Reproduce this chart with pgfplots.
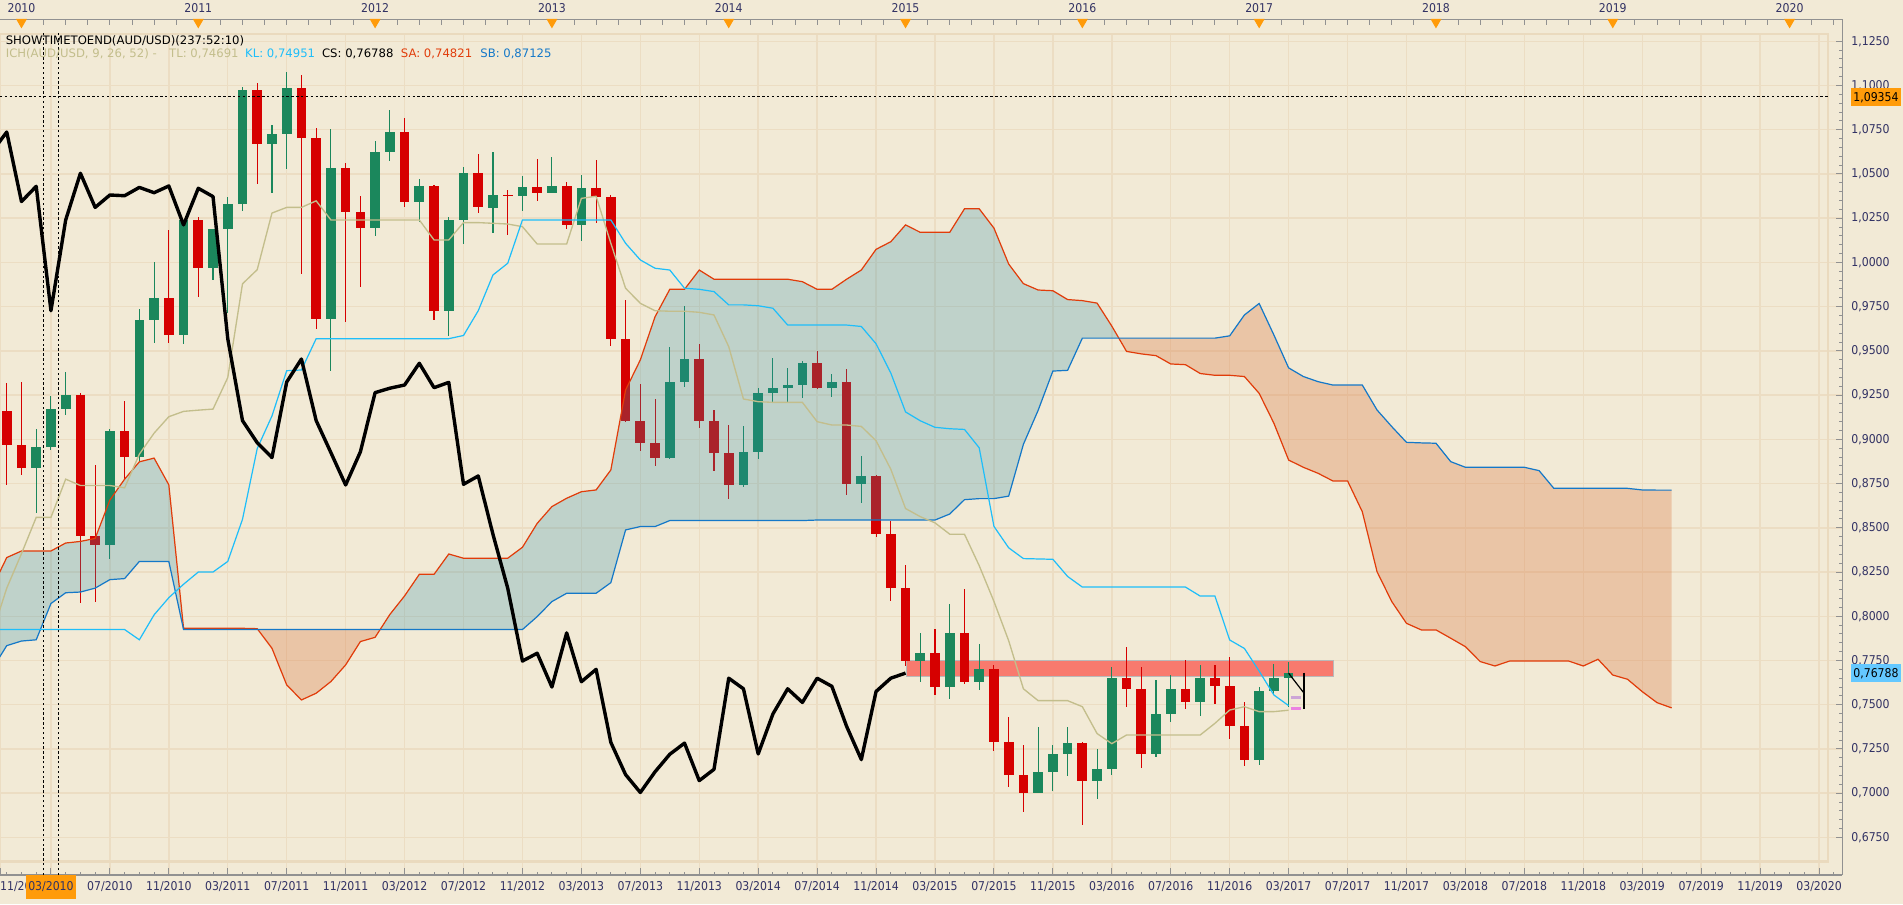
\documentclass[border=0pt]{standalone}
\usepackage{pgfplots}
\pgfplotsset{compat=1.18}
\usepgfplotslibrary{fillbetween}
\usepackage{pgfplotstable}
\usepackage{fontspec}
\setmainfont{DejaVu Sans}
\newfontfamily\narrowfont[FakeStretch=0.9]{DejaVu Sans}
\setlength{\fboxsep}{0pt}
\definecolor{bgcol}{RGB}{242,234,214}
\definecolor{gridcol}{RGB}{236,221,195}
\definecolor{framecol}{RGB}{234,218,190}
\definecolor{axgray}{RGB}{145,145,145}
\definecolor{labelcol}{RGB}{50,50,100}
\definecolor{cgreen}{RGB}{27,135,92}
\definecolor{cred}{RGB}{214,0,0}
\definecolor{cbluefill}{RGB}{40,140,170}
\definecolor{corangefill}{RGB}{215,100,40}
\definecolor{cTL}{RGB}{195,190,140}
\definecolor{cKL}{RGB}{30,190,250}
\definecolor{cSA}{RGB}{225,60,10}
\definecolor{cSB}{RGB}{20,120,200}
\definecolor{crect}{RGB}{248,122,110}
\definecolor{rectborder}{RGB}{185,185,185}
\definecolor{chorange}{RGB}{255,155,10}
\definecolor{clightblue}{RGB}{100,200,255}
\definecolor{cpink}{RGB}{235,130,225}
\definecolor{cpink2}{RGB}{205,165,215}
\newcommand\hf{\fontsize{4.8pt}{5.8pt}\selectfont}
\newcommand\tf{\narrowfont\fontsize{5pt}{6pt}\selectfont}
\pagecolor{bgcol}

\pgfplotstableread{
m o h l c
1 0.8840 0.9061 0.8581 0.8959
2 0.8959 0.9245 0.8938 0.9171
3 0.9171 0.9381 0.9137 0.9251
6 0.8400 0.9061 0.8321 0.9046
8 0.8903 0.9734 0.8870 0.9673
9 0.9673 1.0002 0.9544 0.9799
11 0.9587 1.0240 0.9540 1.0240
13 0.9970 1.0190 0.9900 1.0188
14 1.0188 1.0370 0.9716 1.0331
15 1.0331 1.0990 1.0290 1.0975
17 1.0672 1.0776 1.0391 1.0727
18 1.0727 1.1079 1.0528 1.0988
21 0.9678 1.0755 0.9388 1.0532
24 1.0192 1.0686 1.0149 1.0625
25 1.0625 1.0859 1.0575 1.0737
27 1.0344 1.0469 1.0231 1.0430
29 0.9727 1.0257 0.9587 1.0240
30 1.0240 1.0538 1.0106 1.0504
32 1.0310 1.0626 1.0168 1.0381
34 1.0377 1.0488 1.0291 1.0424
36 1.0394 1.0594 1.0390 1.0432
38 1.0212 1.0494 1.0123 1.0419
44 0.8897 0.9524 0.8890 0.9324
45 0.9324 0.9754 0.9294 0.9454
49 0.8742 0.9076 0.8733 0.8929
50 0.8929 0.9289 0.8889 0.9264
51 0.9264 0.9462 0.9213 0.9289
52 0.9289 0.9405 0.9213 0.9307
53 0.9307 0.9443 0.9232 0.9430
55 0.9292 0.9370 0.9241 0.9322
57 0.8746 0.8906 0.8642 0.8793
61 0.7747 0.7906 0.7626 0.7791
63 0.7600 0.8070 0.7535 0.7906
65 0.7630 0.7842 0.7585 0.7700
69 0.7004 0.7373 0.7000 0.7121
70 0.7121 0.7271 0.7014 0.7220
71 0.7220 0.7373 0.7095 0.7283
73 0.7071 0.7250 0.6970 0.7135
74 0.7135 0.7711 0.7105 0.7650
77 0.7222 0.7640 0.7202 0.7448
78 0.7448 0.7670 0.7404 0.7590
80 0.7513 0.7725 0.7438 0.7650
84 0.7190 0.7599 0.7160 0.7575
85 0.7575 0.7729 0.7559 0.7650
86 0.7650 0.7741 0.7488 0.76788
}\greencandles

\pgfplotstableread{
m o h l c
-1 0.9161 0.9316 0.8743 0.8970
0 0.8970 0.9323 0.8800 0.8840
4 0.9251 0.9262 0.8073 0.8455
5 0.8455 0.8856 0.8083 0.8401
7 0.9046 0.9219 0.8775 0.8903
10 0.9799 1.0186 0.9544 0.9587
12 1.0240 1.0255 0.9807 0.9970
16 1.0975 1.1014 1.0445 1.0672
19 1.0988 1.1062 0.9933 1.0705
20 1.0705 1.0761 0.9626 0.9678
22 1.0532 1.0564 0.9662 1.0283
23 1.0283 1.0376 0.9861 1.0192
26 1.0737 1.0815 1.0311 1.0344
28 1.0430 1.0440 0.9677 0.9727
31 1.0504 1.0614 1.0279 1.0311
33 1.0381 1.0409 1.0155 1.0377
35 1.0424 1.0583 1.0349 1.0394
37 1.0432 1.0456 1.0189 1.0212
39 1.0419 1.0579 1.0225 1.0372
40 1.0372 1.0381 0.9528 0.9569
41 0.9569 0.9788 0.9100 0.9106
42 0.9106 0.9313 0.8936 0.8981
43 0.8981 0.9228 0.8852 0.8897
46 0.9454 0.9539 0.9062 0.9106
47 0.9106 0.9166 0.8823 0.8925
48 0.8925 0.9081 0.8661 0.8742
54 0.9430 0.9499 0.9283 0.9292
56 0.9322 0.9398 0.8686 0.8746
58 0.8793 0.8800 0.8450 0.8463
59 0.8463 0.8538 0.8088 0.8159
60 0.8159 0.8290 0.7721 0.7747
62 0.7791 0.7929 0.7555 0.7600
64 0.7906 0.8155 0.7620 0.7630
66 0.7700 0.7727 0.7236 0.7287
67 0.7287 0.7428 0.7034 0.7105
68 0.7105 0.7271 0.6893 0.7004
72 0.7283 0.7290 0.6822 0.7071
75 0.7650 0.7826 0.7489 0.7590
76 0.7590 0.7711 0.7145 0.7222
79 0.7590 0.7755 0.7478 0.7513
81 0.7650 0.7725 0.7505 0.7604
82 0.7604 0.7767 0.7307 0.7378
83 0.7378 0.7513 0.7156 0.7190
}\redcandles

\pgfplotstableread{
m sa sb
-2 0.8160 0.7700
-1 0.8332 0.7834
0 0.8369 0.7860
1 0.8369 0.7867
2 0.8369 0.8072
3 0.8414 0.8133
4 0.8423 0.8137
5 0.8440 0.8159
6 0.8657 0.8207
7 0.8775 0.8213
8 0.8873 0.8310
9 0.8894 0.8310
10 0.8743 0.8310
11 0.7932 0.7925
12 0.7932 0.7925
13 0.7932 0.7925
14 0.7932 0.7925
15 0.7932 0.7925
16 0.7930 0.7925
17 0.7819 0.7925
18 0.7612 0.7925
19 0.7527 0.7925
20 0.7565 0.7925
21 0.7631 0.7925
22 0.7725 0.7925
23 0.7857 0.7925
24 0.7881 0.7925
25 0.8010 0.7925
26 0.8115 0.7925
27 0.8237 0.7925
28 0.8237 0.7925
29 0.8352 0.7925
30 0.8328 0.7925
31 0.8328 0.7925
32 0.8328 0.7925
33 0.8328 0.7925
34 0.8390 0.7925
35 0.8525 0.7998
36 0.8620 0.8083
37 0.8667 0.8130
38 0.8704 0.8130
39 0.8714 0.8130
40 0.8827 0.8190
41 0.9279 0.8488
42 0.9449 0.8507
43 0.9693 0.8507
44 0.9848 0.8541
45 0.9848 0.8541
46 0.9957 0.8541
47 0.9905 0.8541
48 0.9905 0.8541
49 0.9905 0.8541
50 0.9905 0.8541
51 0.9905 0.8541
52 0.9905 0.8541
53 0.9891 0.8541
54 0.9848 0.8544
55 0.9848 0.8544
56 0.9905 0.8544
57 0.9957 0.8544
58 1.0074 0.8544
59 1.0117 0.8544
60 1.0212 0.8544
61 1.0170 0.8544
62 1.0170 0.8544
63 1.0170 0.8578
64 1.0303 0.8659
65 1.0303 0.8665
66 1.0194 0.8665
67 0.9991 0.8679
68 0.9880 0.8972
69 0.9844 0.9164
70 0.9840 0.9386
71 0.9790 0.9390
72 0.9784 0.9572
73 0.9770 0.9572
74 0.9640 0.9572
75 0.9497 0.9572
76 0.9483 0.9572
77 0.9473 0.9572
78 0.9426 0.9572
79 0.9422 0.9572
80 0.9372 0.9572
81 0.9362 0.9572
82 0.9362 0.9585
83 0.9355 0.9703
84 0.9260 0.9768
85 0.9091 0.9590
86 0.8883 0.9404
87 0.8842 0.9355
88 0.8808 0.9326
89 0.8765 0.9307
90 0.8765 0.9307
91 0.8591 0.9307
92 0.8252 0.9166
93 0.8083 0.9072
94 0.7960 0.8983
95 0.7923 0.8980
96 0.7923 0.8978
97 0.7876 0.8874
98 0.7828 0.8842
99 0.7744 0.8842
100 0.7719 0.8842
101 0.7747 0.8842
102 0.7747 0.8842
103 0.7747 0.8823
104 0.7747 0.8723
105 0.7747 0.8723
106 0.7719 0.8723
107 0.7757 0.8723
108 0.7668 0.8723
109 0.7644 0.8723
110 0.7574 0.8714
111 0.7512 0.8713
112 0.7482 0.8713
}\cloud

\pgfplotstableread{
m tl kl
-2 0.7900 0.7925
-1 0.8159 0.7925
0 0.8354 0.7925
1 0.8559 0.7925
2 0.8559 0.7925
3 0.8775 0.7925
4 0.8739 0.7925
5 0.8739 0.7925
6 0.8739 0.7925
7 0.8726 0.7925
8 0.8916 0.7867
9 0.9035 0.8008
10 0.9128 0.8105
11 0.9158 0.8181
12 0.9165 0.8250
13 0.9171 0.8250
14 0.9349 0.8310
15 0.9879 0.8548
16 0.9959 0.8948
17 1.0279 0.9132
18 1.0311 0.9388
19 1.0311 0.9392
20 1.0348 0.9569
21 1.0240 0.9569
22 1.0240 0.9569
23 1.0240 0.9569
24 1.0240 0.9569
25 1.0240 0.9569
26 1.0240 0.9569
27 1.0240 0.9569
28 1.0127 0.9569
29 1.0127 0.9569
30 1.0225 0.9587
31 1.0225 0.9727
32 1.0221 0.9929
33 1.0217 0.9995
34 1.0202 1.0240
35 1.0104 1.0240
36 1.0104 1.0240
37 1.0104 1.0240
38 1.0362 1.0240
39 1.0374 1.0240
40 1.0108 1.0240
41 0.9854 1.0108
42 0.9769 1.0014
43 0.9727 0.9967
44 0.9724 0.9957
45 0.9724 0.9854
46 0.9718 0.9848
47 0.9703 0.9835
48 0.9524 0.9760
49 0.9228 0.9760
50 0.9213 0.9755
51 0.9209 0.9741
52 0.9209 0.9646
53 0.9209 0.9646
54 0.9100 0.9646
55 0.9081 0.9646
56 0.9081 0.9646
57 0.9073 0.9638
58 0.8992 0.9540
59 0.8831 0.9375
60 0.8609 0.9155
61 0.8563 0.9105
62 0.8528 0.9068
63 0.8464 0.9060
64 0.8464 0.9056
65 0.8286 0.8952
66 0.8084 0.8508
67 0.7862 0.8387
68 0.7590 0.8326
69 0.7523 0.8324
70 0.7523 0.8322
71 0.7523 0.8225
72 0.7489 0.8165
73 0.7337 0.8165
74 0.7280 0.8165
75 0.7329 0.8165
76 0.7329 0.8165
77 0.7329 0.8165
78 0.7329 0.8165
79 0.7329 0.8165
80 0.7329 0.8114
81 0.7395 0.8114
82 0.7470 0.7866
83 0.7489 0.7818
84 0.7461 0.7690
85 0.7461 0.7555
86 0.7469 0.7495
}\tlkl

\pgfplotstableread{
m cs
-2 1.0625
-1 1.0737
0 1.0344
1 1.0430
2 0.9727
3 1.0240
4 1.0504
5 1.0311
6 1.0381
7 1.0377
8 1.0424
9 1.0394
10 1.0432
11 1.0212
12 1.0419
13 1.0372
14 0.9569
15 0.9106
16 0.8981
17 0.8897
18 0.9324
19 0.9454
20 0.9106
21 0.8925
22 0.8742
23 0.8929
24 0.9264
25 0.9289
26 0.9307
27 0.9430
28 0.9292
29 0.9322
30 0.8746
31 0.8793
32 0.8463
33 0.8159
34 0.7747
35 0.7791
36 0.7600
37 0.7906
38 0.7630
39 0.7700
40 0.7287
41 0.7105
42 0.7004
43 0.7121
44 0.7220
45 0.7283
46 0.7071
47 0.7135
48 0.7650
49 0.7590
50 0.7222
51 0.7448
52 0.7590
53 0.7513
54 0.7650
55 0.7604
56 0.7378
57 0.7190
58 0.7575
59 0.7650
60 0.76788
}\chikou

\begin{document}
\begin{tikzpicture}
\begin{axis}[
  set layers,
  at={(0pt,12pt)}, anchor=south west,
  scale only axis, width=759pt, height=347pt,
  xmin=-1.458, xmax=123.58, ymin=0.65374, ymax=1.1298,
  axis x line*=bottom, axis y line*=right,
  axis line style={draw=axgray, line width=0.5pt},
  tick align=inside,
  major tick length=2.8pt, minor tick length=1.4pt,
  tick style={draw=axgray, line width=0.4pt},
  xtick={-1.45,2,6,10,...,122},
  xticklabels={{\makebox[0pt][l]{11/2009}},{\colorbox{chorange}{\rule[-3.5pt]{0pt}{10pt}\,\color{labelcol}03/2010\,}},07/2010,11/2010,03/2011,07/2011,11/2011,03/2012,07/2012,11/2012,03/2013,07/2013,11/2013,03/2014,07/2014,11/2014,03/2015,07/2015,11/2015,03/2016,07/2016,11/2016,03/2017,07/2017,11/2017,03/2018,07/2018,11/2018,03/2019,07/2019,11/2019,03/2020},
  minor xtick={-1,0,1,3,4,5,7,8,9,11,12,13,15,16,17,19,20,21,23,24,25,27,28,29,31,32,33,35,36,37,39,40,41,43,44,45,47,48,49,51,52,53,55,56,57,59,60,61,63,64,65,67,68,69,71,72,73,75,76,77,79,80,81,83,84,85,87,88,89,91,92,93,95,96,97,99,100,101,103,104,105,107,108,109,111,112,113,115,116,117,119,120,121,123},
  ytick={0.675,0.7,0.725,0.75,0.775,0.8,0.825,0.85,0.875,0.9,0.925,0.95,0.975,1,1.025,1.05,1.075,1.1,1.125},
  minor y tick num=4,
  yticklabel style={font=\tf, text=labelcol, anchor=west, xshift=0.2pt,
    /pgf/number format/.cd, fixed, fixed zerofill, precision=4, use comma, assume math mode=true},
  xticklabel style={font=\tf, text=labelcol, anchor=base, yshift=-6.3pt},
  grid=major, grid style={draw=gridcol, line width=0.6pt},
  extra y ticks={1.09354,0.76788},
  extra y tick labels={{\colorbox{chorange}{\rule[-2pt]{0pt}{7.5pt}\,\color{black}1,09354\,}},{\colorbox{clightblue}{\rule[-2pt]{0pt}{7.5pt}\,\color{black}0,76788\,}}},
  extra y tick style={grid=none, major tick length=0pt},
]
% named cloud boundaries
\addplot[draw=none, name path=SApath, forget plot] table[x=m, y=sa] {\cloud};
\addplot[draw=none, name path=SBpath, forget plot] table[x=m, y=sb] {\cloud};

% inner frame
\addplot[framecol, line width=1pt, forget plot] coordinates {(-1.46,0.66128) (122.59,0.66128) (122.59,1.1298)};
\addplot[framecol, line width=1pt, forget plot] coordinates {(-1.46,1.1290) (122.59,1.1290)};

% drawn rectangle
\addplot[on layer=pre main, fill=crect, draw=rectborder, line width=0.6pt, forget plot] coordinates {(60.05,0.7660) (89.06,0.7660) (89.06,0.7750) (60.05,0.7750) (60.05,0.7660)};

% candles: wicks then bodies
\addplot[on layer=pre main, draw=none, mark=none, forget plot, error bars/.cd, y dir=both, y explicit, error mark=none,
  error bar style={draw=cgreen, line width=0.45pt}]
  table[x=m, y expr={(\thisrow{h}+\thisrow{l})/2}, y error expr={(\thisrow{h}-\thisrow{l})/2}] {\greencandles};
\addplot[on layer=pre main, draw=none, mark=none, forget plot, error bars/.cd, y dir=both, y explicit, error mark=none,
  error bar style={draw=cred, line width=0.45pt}]
  table[x=m, y expr={(\thisrow{h}+\thisrow{l})/2}, y error expr={(\thisrow{h}-\thisrow{l})/2}] {\redcandles};
\addplot[on layer=pre main, draw=none, mark=none, forget plot, error bars/.cd, y dir=both, y explicit, error mark=none,
  error bar style={draw=cgreen, line width=4pt}]
  table[x=m, y expr={(\thisrow{o}+\thisrow{c})/2}, y error expr={abs(\thisrow{c}-\thisrow{o})/2}] {\greencandles};
\addplot[on layer=pre main, draw=none, mark=none, forget plot, error bars/.cd, y dir=both, y explicit, error mark=none,
  error bar style={draw=cred, line width=4pt}]
  table[x=m, y expr={(\thisrow{o}+\thisrow{c})/2}, y error expr={abs(\thisrow{c}-\thisrow{o})/2}] {\redcandles};

% cloud
\addplot[fill=cbluefill, fill opacity=0.25, draw=none, forget plot] fill between[of=SApath and SBpath, soft clip={domain=-2:16.045}];
\addplot[fill=corangefill, fill opacity=0.27, draw=none, forget plot] fill between[of=SApath and SBpath, soft clip={domain=16.045:24.34}];
\addplot[fill=cbluefill, fill opacity=0.25, draw=none, forget plot] fill between[of=SApath and SBpath, soft clip={domain=24.34:74.48}];
\addplot[fill=corangefill, fill opacity=0.27, draw=none, forget plot] fill between[of=SApath and SBpath, soft clip={domain=74.48:112}];

% ichimoku lines
\addplot[cSA, line width=0.5pt, mark=none] table[x=m, y=sa] {\cloud};
\addplot[cSB, line width=0.5pt, mark=none] table[x=m, y=sb] {\cloud};
\addplot[cTL, line width=0.55pt, mark=none] table[x=m, y=tl] {\tlkl};
\addplot[cKL, line width=0.5pt, mark=none] table[x=m, y=kl] {\tlkl};
\addplot[black, line width=1.4pt, mark=none, line join=round] table[x=m, y=cs] {\chikou};

% cursor / markers
\addplot[black, line width=0.4pt, dash pattern=on 1pt off 1pt] coordinates {(1.48,0.6537) (1.48,1.1298)};
\addplot[black, line width=0.4pt, dash pattern=on 1pt off 1pt] coordinates {(2.52,0.6537) (2.52,1.1298)};
\addplot[black, line width=0.4pt, dash pattern=on 1pt off 1pt] coordinates {(-1.46,1.09354) (122.59,1.09354)};
\addplot[black, line width=0.5pt] coordinates {(86.0,0.7678) (87.05,0.7565)};
\addplot[black, line width=0.6pt] coordinates {(87.05,0.7682) (87.05,0.7476)};
\addplot[cpink2, line width=1.3pt] coordinates {(86.15,0.7542) (86.85,0.7542)};
\addplot[cpink, line width=1.3pt] coordinates {(86.15,0.7478) (86.85,0.7478)};
\end{axis}

% top band with year labels
\begin{axis}[
  at={(0pt,359pt)}, anchor=south west,
  scale only axis, width=759pt, height=5.5pt,
  xmin=-1.458, xmax=123.58, ymin=0, ymax=1,
  axis x line*=top, axis y line*=right,
  axis line style={draw=axgray, line width=0.5pt},
  ytick=\empty,
  xtick={0,12,...,120},
  xticklabels={2010,2011,2012,2013,2014,2015,2016,2017,2018,2019,2020},
  minor xtick={0,1.5,...,123},
  major tick length=0pt, minor tick length=2.4pt, tick align=inside,
  tick style={draw=axgray, line width=0.4pt},
  xticklabel style={font=\tf, text=labelcol, yshift=-0.9pt},
  clip=false,
]
\addplot[only marks, mark=triangle*, mark size=2.2pt, mark options={rotate=180, fill=chorange, draw=chorange}]
  coordinates {(0,0.8) (12,0.8) (24,0.8) (36,0.8) (48,0.8) (60,0.8) (72,0.8) (84,0.8) (96,0.8) (108,0.8) (120,0.8)};
\end{axis}

% header texts
\node[anchor=base west, inner sep=0pt, font=\hf, text=black] at (2.2pt,354pt) {SHOWTIMETOEND(AUD/USD)(237:52:10)};
\node[anchor=base west, inner sep=0pt, font=\hf, text=cTL] at (2.2pt,349pt) {ICH(AUD/USD, 9, 26, 52) -};
\node[anchor=base west, inner sep=0pt, font=\hf, text=cTL] at (69.5pt,349pt) {TL: 0,74691};
\node[anchor=base west, inner sep=0pt, font=\hf, text=cKL] at (100.8pt,349pt) {KL: 0,74951};
\node[anchor=base west, inner sep=0pt, font=\hf, text=black] at (132.5pt,349pt) {CS: 0,76788};
\node[anchor=base west, inner sep=0pt, font=\hf, text=cSA] at (165pt,349pt) {SA: 0,74821};
\node[anchor=base west, inner sep=0pt, font=\hf, text=cSB] at (197.7pt,349pt) {SB: 0,87125};

\pgfresetboundingbox
\path[use as bounding box] (0,0) rectangle (784pt,372.5pt);
\end{tikzpicture}
\end{document}
